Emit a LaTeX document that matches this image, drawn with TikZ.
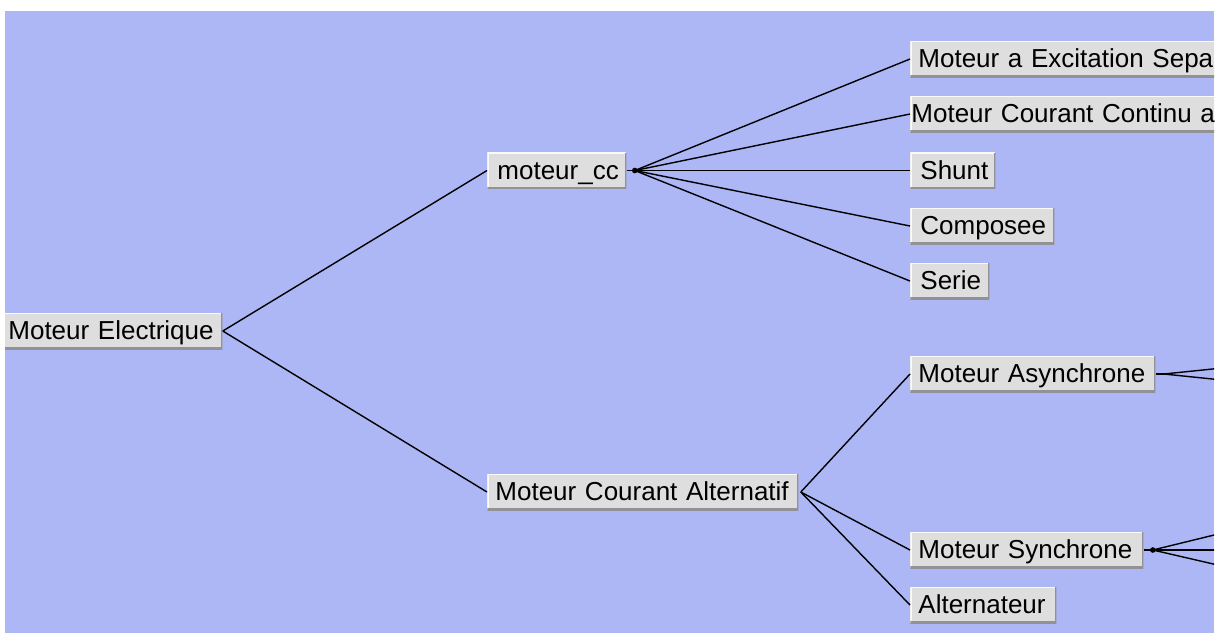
\documentclass[tikz,border=0pt]{standalone}
\usepackage{fontspec}
\setmainfont{Liberation Sans}
\definecolor{canvas}{RGB}{173,183,245}
\definecolor{btnface}{RGB}{222,222,222}
\definecolor{btnhi}{RGB}{250,250,250}
\definecolor{btnshadow}{RGB}{145,145,150}
\tikzset{
  btn/.style={anchor=west, fill=btnface, minimum height=18pt,
    inner xsep=4pt, inner ysep=0pt, text height=9.5pt, text depth=1pt,
    align=left, font=\fontsize{13}{15}\selectfont,
    path picture={
      \draw[btnhi, line width=1.2pt]
        (path picture bounding box.south west) -- (path picture bounding box.north west)
        -- (path picture bounding box.north east);
      \draw[btnshadow, line width=1.6pt]
        (path picture bounding box.south west) -- (path picture bounding box.south east)
        -- (path picture bounding box.north east);
    }},
  link/.style={line width=0.7pt, black},
}
\begin{document}
\begin{tikzpicture}[x=0.5pt, y=-0.5pt]
  \useasboundingbox (0,0) rectangle (1224,634);
  \clip (5,11) rectangle (1214,633);
  \fill[canvas] (5,11) rectangle (1214,633);

  % tree nodes
  \node[btn, text width=103pt] (me)  at (0,331)  {Moteur Electrique};
  \node[btn, inner xsep=5pt, text width=59.5pt] (cc)  at (487,170.5) {moteur\_cc};
  \node[btn, text width=147.5pt] (mca) at (487,492) {Moteur Courant Alternatif};

  \node[btn, text width=152pt] (sep) at (910,59) {Moteur a Excitation Sepa};
  \node[btn, text width=158pt, inner xsep=0.5pt] (cca) at (910,114) {Moteur Courant Continu a};
  \node[btn, inner xsep=5pt, text width=32.5pt] (shu) at (910,170.5) {Shunt};
  \node[btn, inner xsep=5pt, text width=62pt] (com) at (910,226) {Composee};
  \node[btn, inner xsep=5pt, text width=29.5pt] (ser) at (910,281) {Serie};

  \node[btn, text width=114.5pt] (asy) at (910,374) {Moteur Asynchrone};
  \node[btn, text width=108.5pt] (syn) at (910,550) {Moteur Synchrone};
  \node[btn, text width=65pt] (alt) at (910,605) {Alternateur};

  % root links
  \draw[link] (me.east) -- (cc.west);
  \draw[link] (me.east) -- (mca.west);

  % direct current branch
  \coordinate (ccj) at ([xshift=4pt]cc.east);
  \draw[link] (cc.east) -- (ccj);
  \foreach \c in {sep,cca,shu,com,ser} \draw[link] (ccj) -- (\c.west);
  \fill (ccj) circle (1.4pt);

  % alternating current branch
  \coordinate (mcaj) at ([xshift=1pt]mca.east);
  \foreach \c in {asy,syn,alt} \draw[link] (mcaj) -- (\c.west);

  % links leaving to the right
  \coordinate (asyj) at ([xshift=4pt]asy.east);
  \coordinate (asyA) at (1300,360);
  \coordinate (asyB) at (1300,388);
  \draw[link] (asy.east) -- (asyj);
  \draw[link] (asyj) -- (asyA);
  \draw[link] (asyj) -- (asyB);

  \coordinate (synj) at ([xshift=4.5pt]syn.east);
  \coordinate (synA) at (1300,514);
  \coordinate (synB) at (1300,550);
  \coordinate (synC) at (1300,584);
  \draw[link] (syn.east) -- (synj);
  \foreach \c in {synA,synB,synC} \draw[link] (synj) -- (\c);
  \fill (synj) circle (1.4pt);
\end{tikzpicture}
\end{document}
